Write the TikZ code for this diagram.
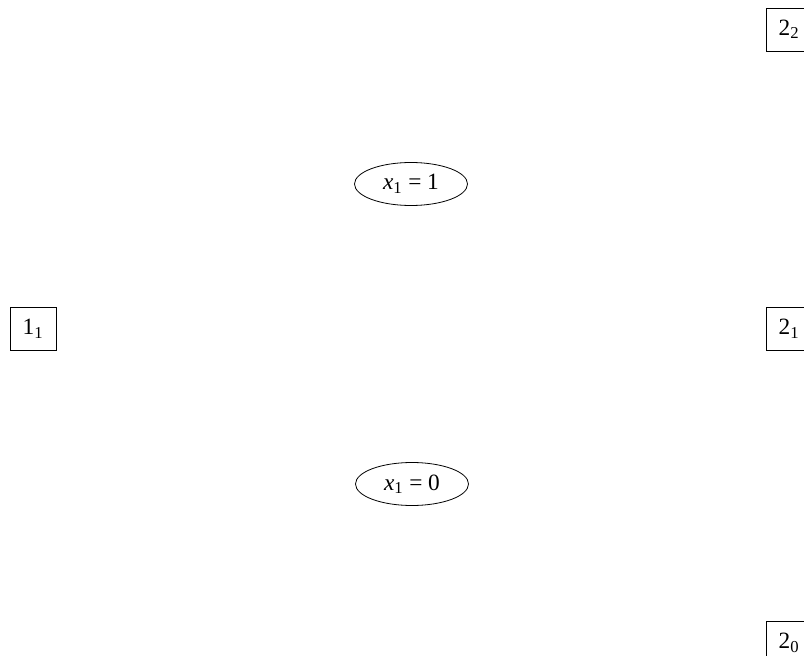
\documentclass[tikz,border=0pt]{standalone}
\usepackage{fontspec}
\setmainfont{Liberation Serif}
\usetikzlibrary{shapes.geometric}
\tikzset{
  sq/.style={draw, line width=0.6pt, rectangle, minimum width=46*0.75pt, minimum height=43*0.75pt, inner sep=0pt, font=\fontsize{17.5}{19}\selectfont},
  ell/.style={draw, line width=0.6pt, ellipse, minimum width=113*0.75pt, minimum height=43*0.75pt, inner sep=0pt, font=\fontsize{17.5}{19}\selectfont}
}
\newcommand{\sbs}[1]{\textsubscript{\fontsize{12.5}{13}\selectfont #1}}
\begin{document}
\begin{tikzpicture}[x=0.75pt,y=-0.75pt]
\useasboundingbox (0,0) rectangle (804,656);
\node[sq] (n22) at (789,29.5) {2\sbs{2}};
\node[ell] (e1) at (411,184) {\itshape x\upshape\sbs{1} = 1};
\node[sq] (n11) at (33,329) {1\sbs{1}};
\node[sq] (n21) at (789,329) {2\sbs{1}};
\node[ell] (e0) at (412,484) {\itshape x\upshape\sbs{1} = 0};
\node[sq] (n20) at (789,643) {2\sbs{0}};
\end{tikzpicture}
\end{document}
